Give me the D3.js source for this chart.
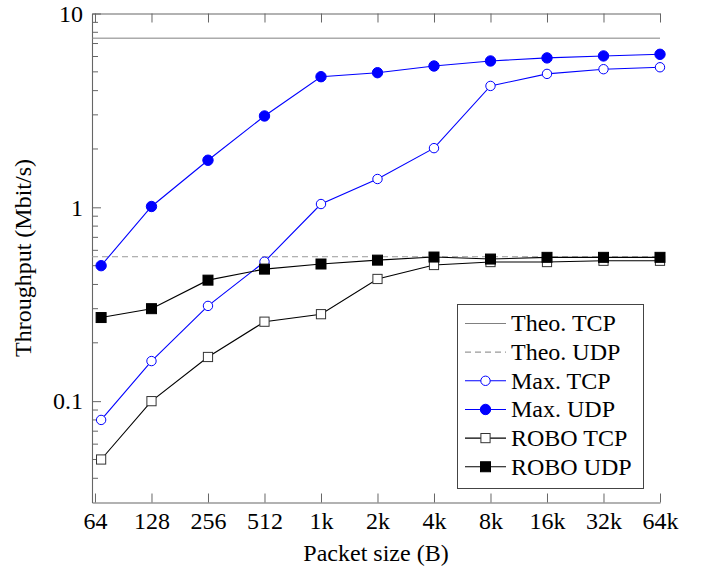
<!DOCTYPE html>
<html>
<head>
<meta charset="utf-8">
<script src="https://cdn.jsdelivr.net/npm/d3@7"></script>
<style>
  body { margin: 0; background: #fff; }
  svg { display: block; font-family: "Liberation Serif", "DejaVu Serif", serif; }
</style>
</head>
<body>
<svg id="chart" width="701" height="567"></svg>
<script>
// data
var packetSizes = [69, 128, 256, 512, 1024, 2048, 4096, 8192, 16384, 32768, 65536];
var xTickValues = [64, 128, 256, 512, 1024, 2048, 4096, 8192, 16384, 32768, 65536];
var xTickLabels = ["64", "128", "256", "512", "1k", "2k", "4k", "8k", "16k", "32k", "64k"];
var yTickValues = [0.1, 1, 10];
var yTickLabels = ["0.1", "1", "10"];
var yMinorTicks = [0.04, 0.05, 0.06, 0.07, 0.08, 0.09, 0.2, 0.3, 0.4, 0.5, 0.6, 0.7, 0.8, 0.9, 2, 3, 4, 5, 6, 7, 8, 9];

var theoTcp = 7.46;
var theoUdp = 0.556;
var maxTcp = [0.08, 0.161, 0.31, 0.524, 1.04, 1.4, 2.02, 4.23, 4.88, 5.16, 5.28];
var maxUdp = [0.50, 1.01, 1.75, 2.96, 4.72, 4.95, 5.36, 5.69, 5.9, 6.04, 6.16];
var roboTcp = [0.05, 0.1, 0.169, 0.257, 0.281, 0.427, 0.504, 0.522, 0.522, 0.53, 0.53];
var roboUdp = [0.27, 0.30, 0.421, 0.48, 0.51, 0.534, 0.554, 0.541, 0.552, 0.552, 0.552];

var legendNames = ["Theo. TCP", "Theo. UDP", "Max. TCP", "Max. UDP", "ROBO TCP", "ROBO UDP"];

var svg = d3.select("#chart");
var fontSize = 24;
var axisColor = "#666";

// scales (log2 on x, log10 on y)
var x = d3.scaleLog().base(2).domain([61.7, 65536]).range([92, 660]);
var y = d3.scaleLog().domain([0.03, 10]).range([502.5, 13.5]);

// bottom axis, ticks pointing inwards
var xAxis = svg.append("g")
  .attr("transform", "translate(0," + y.range()[0] + ")")
  .call(d3.axisBottom(x)
    .tickValues(xTickValues)
    .tickFormat(function (d, i) { return xTickLabels[i]; })
    .tickSizeInner(-9)
    .tickSizeOuter(0)
    .tickPadding(9));

// top axis line, mirrored ticks without labels
var xTop = svg.append("g")
  .attr("transform", "translate(0," + y.range()[1] + ")")
  .call(d3.axisTop(x)
    .tickValues(xTickValues)
    .tickFormat("")
    .tickSizeInner(-9)
    .tickSizeOuter(0));

// left axis
var yAxis = svg.append("g")
  .attr("transform", "translate(" + x.range()[0] + ",0)")
  .call(d3.axisLeft(y)
    .tickValues(yTickValues)
    .tickFormat(function (d, i) { return yTickLabels[i]; })
    .tickSizeInner(-9)
    .tickSizeOuter(0)
    .tickPadding(9));

// minor ticks on the y axis
yAxis.selectAll("line.minor")
  .data(yMinorTicks)
  .enter()
  .append("line")
  .attr("class", "minor")
  .attr("x1", 0)
  .attr("x2", 6)
  .attr("y1", function (d) { return y(d); })
  .attr("y2", function (d) { return y(d); });

svg.selectAll(".domain").attr("stroke", axisColor).attr("stroke-width", 1.1);
svg.selectAll(".tick line, line.minor").attr("stroke", axisColor).attr("stroke-width", 1);
svg.selectAll(".tick text")
  .attr("fill", "#000")
  .style("font-family", "Liberation Serif, serif")
  .style("font-size", fontSize + "px");

// axis titles
svg.append("text")
  .attr("x", (x.range()[0] + x.range()[1]) / 2)
  .attr("y", 561)
  .attr("text-anchor", "middle")
  .style("font-size", fontSize + "px")
  .text("Packet size (B)");

svg.append("text")
  .attr("transform", "translate(31," + (y.range()[0] + y.range()[1]) / 2 + ") rotate(-90)")
  .attr("text-anchor", "middle")
  .style("font-size", fontSize + "px")
  .text("Throughput (Mbit/s)");

// theoretical limits as horizontal lines
var plot = svg.append("g");

plot.append("line")
  .attr("x1", x.range()[0]).attr("x2", x.range()[1])
  .attr("y1", y(theoTcp)).attr("y2", y(theoTcp))
  .attr("stroke", "#808080").attr("stroke-width", 1);

plot.append("line")
  .attr("x1", x.range()[0]).attr("x2", x.range()[1])
  .attr("y1", y(theoUdp)).attr("y2", y(theoUdp))
  .attr("stroke", "#999").attr("stroke-width", 1)
  .attr("stroke-dasharray", "6,4");

var line = d3.line()
  .x(function (d, i) { return x(packetSizes[i]); })
  .y(function (d) { return y(d); });

// series drawing settings
var series = [
  { values: maxTcp, color: "#0000ff", marker: "circle", filled: false },
  { values: maxUdp, color: "#0000ff", marker: "circle", filled: true },
  { values: roboTcp, color: "#000", marker: "square", filled: false },
  { values: roboUdp, color: "#000", marker: "square", filled: true }
];

function drawMarker(g, s, cx, cy) {
  if (s.marker == "circle") {
    g.append("circle")
      .attr("cx", cx).attr("cy", cy)
      .attr("r", s.filled ? 5.2 : 4.7)
      .attr("fill", s.filled ? s.color : "#fff")
      .attr("stroke", s.color)
      .attr("stroke-width", 1);
  } else {
    var half = s.filled ? 5 : 4.6;
    g.append("rect")
      .attr("x", cx - half).attr("y", cy - half)
      .attr("width", half * 2).attr("height", half * 2)
      .attr("fill", s.filled ? s.color : "#fff")
      .attr("stroke", s.filled ? s.color : "#333")
      .attr("stroke-width", 1);
  }
}

series.forEach(function (s) {
  var g = plot.append("g");
  g.append("path")
    .attr("d", line(s.values))
    .attr("fill", "none")
    .attr("stroke", s.color)
    .attr("stroke-width", 1.1);
  s.values.forEach(function (v, i) {
    drawMarker(g, s, x(packetSizes[i]), y(v));
  });
});

// legend box
var legend = svg.append("g");
legend.append("rect")
  .attr("x", 457.5).attr("y", 304.5)
  .attr("width", 186).attr("height", 184)
  .attr("fill", "#fff")
  .attr("stroke", "#444")
  .attr("stroke-width", 1);

var legendStyles = [
  { color: "#808080", dash: null, marker: null },
  { color: "#999", dash: "6,4", marker: null },
  series[0], series[1], series[2], series[3]
];

legendNames.forEach(function (name, i) {
  var cy = 323.5 + i * 28.65;
  var st = legendStyles[i];
  legend.append("line")
    .attr("x1", 465).attr("x2", 506)
    .attr("y1", cy).attr("y2", cy)
    .attr("stroke", st.color)
    .attr("stroke-width", 1.1)
    .attr("stroke-dasharray", st.dash || null);
  if (st.marker) drawMarker(legend, st, 485.5, cy);
  legend.append("text")
    .attr("x", 511)
    .attr("y", cy)
    .attr("dy", "0.33em")
    .style("font-size", fontSize + "px")
    .text(name);
});
</script>
</body>
</html>
